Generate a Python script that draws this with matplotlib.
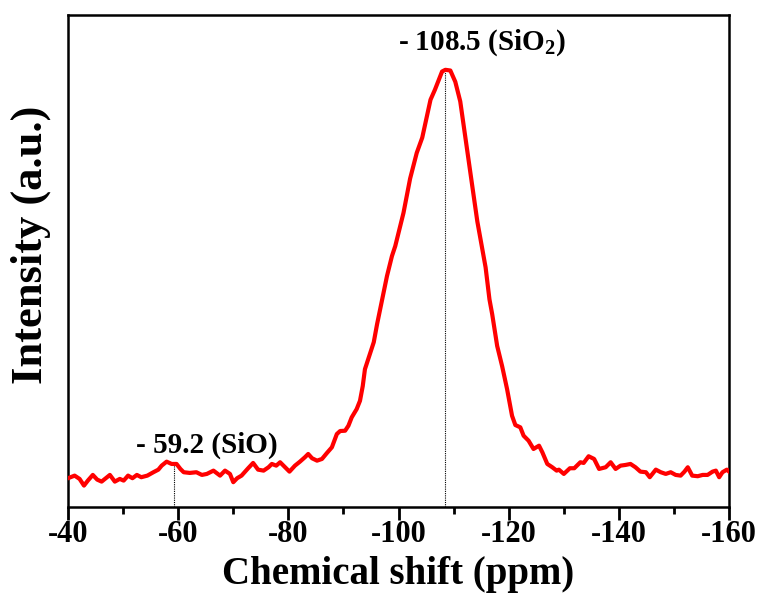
import matplotlib

matplotlib.use("Agg")
import matplotlib.pyplot as plt
from matplotlib.ticker import MultipleLocator

# 29Si NMR spectrum (intensity in arbitrary units)
shift_ppm = [
    -40.0, -41.2, -42.1, -42.9, -43.6, -44.5, -45.3, -46.1, -46.7, -47.6,
    -48.5, -49.4, -50.1, -50.9, -51.7, -52.5, -53.3, -54.4, -55.5, -56.4,
    -57.0, -57.9, -58.8, -59.7, -60.4, -61.0, -62.1, -63.3, -64.3, -65.2,
    -66.4, -67.6, -68.5, -69.4, -70.0, -70.7, -71.5, -72.7, -73.6, -74.5,
    -75.5, -76.4, -77.0, -77.8, -78.5, -79.4, -80.2, -81.2, -82.1, -83.0,
    -83.6, -84.3, -85.2, -86.1, -87.0, -87.9, -88.8, -89.4, -90.3, -90.9,
    -91.5, -92.4, -93.0, -93.5, -93.9, -94.5, -95.5, -96.1, -96.7, -97.9,
    -98.8, -99.4, -100.3, -100.9, -102.1, -103.3, -104.3, -105.8, -106.6, -107.9,
    -108.5, -109.4, -110.3, -111.2, -112.1, -113.3, -114.3, -115.8, -116.5, -117.0,
    -117.9, -118.8, -119.7, -120.6, -121.2, -122.1, -122.7, -123.6, -124.5, -125.5,
    -126.1, -127.0, -127.9, -128.7, -129.1, -130.0, -131.1, -131.9, -133.0, -133.6,
    -134.5, -135.5, -136.4, -137.6, -138.5, -139.4, -140.3, -141.2, -142.1, -143.0,
    -143.9, -144.9, -145.6, -146.7, -147.6, -148.5, -149.4, -150.3, -151.2, -151.9,
    -152.5, -153.3, -154.3, -155.2, -156.1, -157.0, -157.6, -158.2, -158.8, -159.6,
    -160.0,
]
intensity = [
    28.7, 31.3, 28.0, 21.3, 26.3, 32.0, 27.3, 25.3, 28.0, 32.0,
    25.3, 28.0, 26.3, 31.3, 28.7, 32.0, 29.7, 31.3, 34.7, 37.3,
    41.3, 45.3, 43.0, 43.0, 38.0, 34.7, 34.0, 34.7, 32.0, 33.0,
    36.3, 31.3, 36.3, 33.0, 24.7, 28.7, 31.3, 38.7, 44.0, 37.3,
    36.3, 39.7, 43.0, 41.3, 44.7, 39.7, 35.3, 41.3, 45.3, 49.7,
    53.0, 48.7, 46.3, 48.0, 54.0, 59.7, 73.0, 76.0, 76.3, 81.3,
    89.7, 98.0, 106.3, 121.0, 138.0, 148.0, 165.0, 183.0, 199.0, 231.3,
    251.3, 261.3, 281.3, 294.7, 329.0, 354.7, 370.0, 408.0, 418.0, 436.3,
    438.0, 437.3, 426.0, 406.3, 371.0, 324.7, 286.0, 240.0, 208.0, 193.0,
    161.3, 141.0, 118.0, 91.3, 82.0, 79.7, 71.3, 66.3, 58.0, 61.3,
    54.7, 43.0, 39.7, 36.3, 37.3, 33.0, 38.7, 38.7, 44.7, 44.0,
    50.7, 48.0, 38.0, 39.7, 44.7, 38.0, 41.3, 42.0, 43.0, 39.7,
    35.3, 34.7, 29.7, 37.3, 34.7, 33.0, 34.7, 32.0, 31.3, 35.3,
    39.7, 31.3, 30.7, 32.0, 32.0, 35.3, 36.3, 29.7, 34.7, 37.3,
    35.3,
]

peak_ppm = [-59.2, -108.5]
peak_height = [43.0, 438.0]
peak_labels = ["- 59.2 (SiO)", "- 108.5 (SiO$_2$)"]
label_x = [-65.2, -115.1]
label_y = [62, 465]

x_ticks = [-40, -60, -80, -100, -120, -140, -160]

plt.rcParams["font.family"] = ["Liberation Serif", "DejaVu Serif"]
plt.rcParams["font.weight"] = "bold"
plt.rcParams["mathtext.fontset"] = "custom"
plt.rcParams["mathtext.rm"] = "Liberation Serif:bold"
plt.rcParams["mathtext.it"] = "Liberation Serif:bold"
plt.rcParams["mathtext.bf"] = "Liberation Serif:bold"

fig = plt.figure(figsize=(7.59, 5.97), dpi=100)
ax = fig.add_axes([0.0896, 0.151, 0.871, 0.824])

ax.plot(shift_ppm, intensity, color="#ff0000", lw=3.0, solid_joinstyle="round", zorder=3)

for px, ph in zip(peak_ppm, peak_height):
    ax.plot([px, px], [0, ph], color="black", lw=0.8, ls=(0, (1, 1)), zorder=2)

for lab, lx, ly in zip(peak_labels, label_x, label_y):
    ax.text(lx, ly, lab, ha="center", va="center", fontsize=21, fontweight="bold")

ax.set_xlim(-40, -160)
ax.set_ylim(0, 493)
ax.set_xticks(x_ticks)
ax.set_xticklabels([str(t) for t in x_ticks])
ax.xaxis.set_minor_locator(MultipleLocator(10))
ax.set_yticks([])
ax.tick_params(axis="x", which="major", direction="out", length=9, width=2,
               labelsize=22, pad=0.5)
ax.tick_params(axis="x", which="minor", direction="out", length=5, width=2)
for s in ax.spines.values():
    s.set_linewidth(1.8)

ax.set_xlabel("Chemical shift (ppm)", fontsize=28, fontweight="bold", labelpad=5)
ax.set_ylabel("Intensity (a.u.)", fontsize=32, fontweight="bold")
ax.yaxis.set_label_coords(-0.026, 0.533)

fig.savefig("out.png", dpi=100)
